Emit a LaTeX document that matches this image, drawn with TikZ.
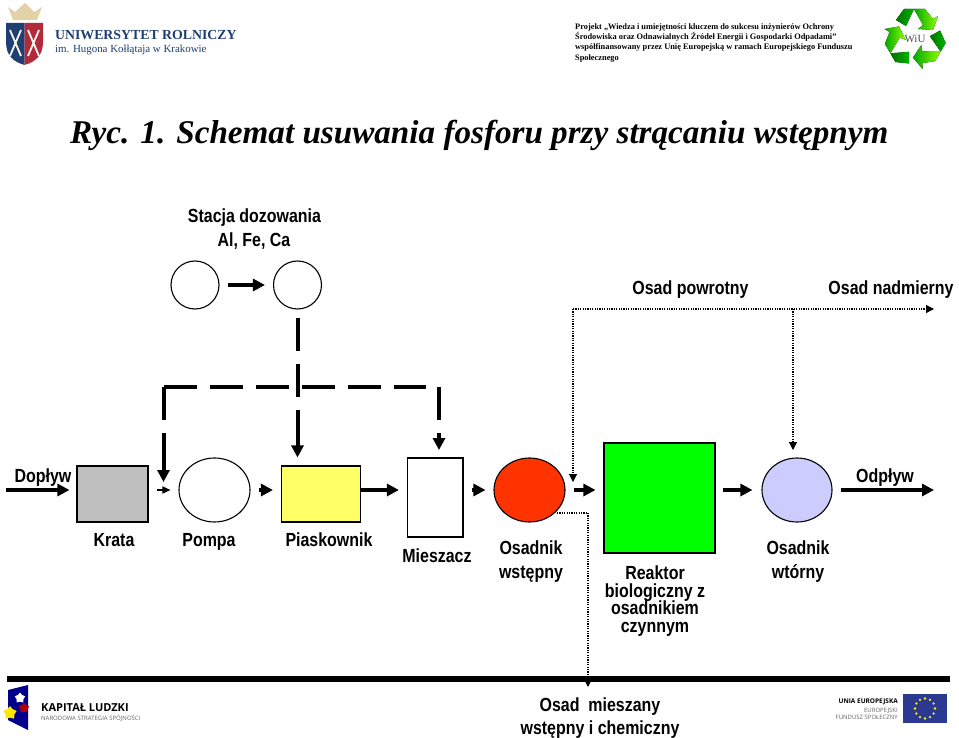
\documentclass[tikz,border=0pt]{standalone}
\usepackage{fontspec}
\usetikzlibrary{arrows.meta,shapes.geometric}
\setmainfont{Liberation Serif}
\newfontfamily\labfont[FakeStretch=0.84]{Liberation Sans}
\newfontfamily\logofont{Open Sans}
\definecolor{uniblue}{HTML}{1F3F73}
\definecolor{unired}{HTML}{B32A3A}
\definecolor{eublue}{HTML}{2B3990}
\definecolor{crown}{HTML}{E2D2A6}
\definecolor{sandy}{HTML}{FFFF66}
\definecolor{screen}{HTML}{BFBFBF}
\definecolor{primary}{HTML}{FF3300}
\definecolor{reactor}{HTML}{00FF00}
\definecolor{secondary}{HTML}{CCCCFF}
\begin{document}
\begin{tikzpicture}[x=1pt,y=-1pt,
box/.style={draw,line width=1.1pt,inner sep=0pt},
round/.style={ellipse,draw,line width=1.1pt,inner sep=0pt},
lab/.style={font=\labfont\bfseries\fontsize{19}{19}\selectfont,inner sep=0pt,anchor=base,text height=12.5pt,text depth=4pt},
flow/.style={line width=4pt,-{Triangle[length=12pt,width=12pt]}},
dose/.style={flow,dash pattern=on 33pt off 13pt on 200pt},
slud/.style={line width=1.1pt,dash pattern=on 1.2pt off 1.2pt},
sludtip/.style={slud,-{Triangle[length=8pt,width=8pt]}}]
\useasboundingbox (0,0) rectangle (959,738);
% process line
\coordinate (line) at (0,490);
\coordinate (in) at (6,490);
\coordinate (out) at (934,490);
\node[box,fill=screen,minimum width=71pt,minimum height=56pt] (krata) at (112.5,494) {};
\node[round,fill=white,minimum width=71pt,minimum height=64pt] (pompa) at (214.5,490) {};
\node[box,fill=sandy,minimum width=79pt,minimum height=56pt] (piask) at (321,494) {};
\node[box,fill=white,minimum width=55.5pt,minimum height=79pt] (miesz) at (435.2,497.5) {};
\node[round,fill=primary,minimum width=71pt,minimum height=64pt] (wstepny) at (529.5,490) {};
\node[box,fill=reactor,minimum width=111pt,minimum height=110pt] (reaktor) at (659.5,498) {};
\node[round,fill=secondary,minimum width=70pt,minimum height=64pt] (wtorny) at (797,490) {};
\draw[flow] (in) -- ([xshift=-7pt]krata.west |- line);
\draw[line width=1.5pt,-{Triangle[length=8pt,width=7pt]},shorten <=8pt,shorten >=8pt] (krata.east |- line) -- (pompa.west |- line);
\draw[flow,shorten <=8pt,shorten >=8pt] (pompa.east |- line) -- (piask.west |- line);
\draw[flow,shorten >=8pt] (piask.east |- line) -- (miesz.west |- line);
\draw[flow,shorten <=8pt,shorten >=8pt] (miesz.east |- line) -- (wstepny.west |- line);
\draw[flow,shorten <=8pt,shorten >=8pt] (wstepny.east |- line) -- (reaktor.west |- line);
\draw[flow,shorten <=7pt,shorten >=9pt] (reaktor.east |- line) -- (wtorny.west |- line);
\draw[flow,shorten <=8pt] (wtorny.east |- line) -- (out);
% dosing station
\node[round,minimum width=48pt,minimum height=48pt] (dos1) at (195,285) {};
\node[round,minimum width=48pt,minimum height=48pt] (dos2) at (297.5,285) {};
\draw[flow,shorten <=8pt,shorten >=8pt] (dos1) -- (dos2);
\coordinate (joinL) at (163.5,387);
\coordinate (joinR) at (426,387);
\coordinate (dropR) at (439,387);
\coordinate (tipL) at (163.5,482);
\coordinate (tipR) at (439,450);
\draw[dose,shorten <=8pt,shorten >=8pt,dash pattern=on 33pt off 13pt on 33pt off 13pt on 200pt] (dos2) -- (dos2 |- piask.north);
\draw[line width=4pt,dash pattern=on 33pt off 13pt] (joinL) -- (joinR);
\draw[dose] (joinL) -- (tipL);
\draw[dose] (dropR) -- (tipR);
% sludge lines
\coordinate (retL) at (573,309);
\coordinate (retM) at (793,309);
\coordinate (retR) at (934,309);
\coordinate (retLtip) at (573,482);
\coordinate (retMtip) at (793,450);
\coordinate (mixA) at (557,513);
\coordinate (mixB) at (588,513);
\coordinate (mixtip) at (588,687);
\draw[sludtip] (retL) -- (retR);
\draw[sludtip] (retL) -- (retLtip);
\draw[sludtip] (retM) -- (retMtip);
\draw[slud] (mixA) -- (mixB);
% bar under the scheme
\coordinate (barL) at (7,679);
\coordinate (barR) at (950,679);
\draw[line width=6pt] (barL) -- (barR);
\draw[sludtip] (mixB) -- (mixtip);
% labels
\node[lab] (stacja) at (254.5,222.5) {Stacja dozowania};
\node[lab] (metale) at (254,246.5) {Al, Fe, Ca};
\node[lab] (powrotny) at (690.5,294.5) {Osad powrotny};
\node[lab] (nadmierny) at (891,294.5) {Osad nadmierny};
\node[lab] (doplyw) at (43,482.5) {Dopływ};
\node[lab] (odplyw) at (885,482.5) {Odpływ};
\node[lab] (lkrata) at (114,546) {Krata};
\node[lab] (lpompa) at (209,546) {Pompa};
\node[lab] (lpiask) at (329,546) {Piaskownik};
\node[lab] (lmiesz) at (437,562) {Mieszacz};
\node[lab] (lwst1) at (531,554) {Osadnik};
\node[lab] (lwst2) at (531,578) {wstępny};
\node[lab] (lwt1) at (798,554) {Osadnik};
\node[lab] (lwt2) at (798,578) {wtórny};
\node[lab] (lre1) at (655,579) {Reaktor};
\node[lab] (lre2) at (655,597) {biologiczny z};
\node[lab] (lre3) at (655,614) {osadnikiem};
\node[lab] (lre4) at (655,632) {czynnym};
\node[lab] (lmix1) at (600,711) {Osad\ \ mieszany};
\node[lab] (lmix2) at (600,734) {wstępny i chemiczny};
% title
\node[font=\bfseries\itshape\fontsize{33.15}{33.15}\selectfont,inner sep=0pt,anchor=base west] (title) at (70,144) {Ryc. 1. Schemat usuwania fosforu przy strącaniu wstępnym};
% project note
\node[font=\bfseries\fontsize{8.35}{10.4}\selectfont,inner sep=0pt,align=left,anchor=north west] (projekt) at (575,23) {Projekt „Wiedza i umiejętności kluczem do sukcesu inżynierów Ochrony\\Środowiska oraz Odnawialnych Źródeł Energii i Gospodarki Odpadami”\\współfinansowany przez Unię Europejską w ramach Europejskiego Funduszu\\Społecznego};
% university logo
\fill[crown] (8,7) -- (15,12) -- (25,3) -- (34,12) -- (42,7) -- (37,20) -- (13,20) -- cycle;
\fill[uniblue] (6,23) -- (24.5,23) -- (24.5,65) .. controls (14,62) and (6,56) .. (6,42) -- cycle;
\fill[unired] (24.5,23) -- (43,23) -- (43,42) .. controls (43,56) and (35,62) .. (24.5,65) -- cycle;
\draw[white!85!crown,line width=1.8pt] (10,30) -- (21,56) (21,30) -- (10,56) (28,30) -- (39,56) (39,30) -- (28,56);
\node[font=\bfseries\fontsize{13.8}{13.8}\selectfont,text=uniblue,inner sep=0pt,anchor=base west] (uni) at (55,40) {UNIWERSYTET ROLNICZY};
\node[font=\fontsize{10.9}{10.9}\selectfont,text=uniblue,inner sep=0pt,anchor=base west] (uni2) at (55,53) {im. Hugona Kołłątaja w Krakowie};
% recycling logo
\foreach \a in {0,120,240}{
\begin{scope}[shift={(915,38)},rotate=\a]
\fill[left color=green!45!black,right color=green!70!black] (-19,-18) -- (-11,-29) -- (-1,-29) -- (-9,-12) -- cycle;
\fill[left color=green!65!black,right color=lime!75!green] (-1,-29) -- (10,-29) -- (18,-19) -- (23,-22) -- (18,-8) -- (3,-9) -- (8,-13) -- cycle;
\end{scope}}
\node[font=\fontsize{11}{11}\selectfont,text=black!70,inner sep=0pt] (wiu) at (915,39) {WiU};
% human capital logo
\fill[blue!55!black] (8,690) -- (28,685) -- (28,730) -- (8,720) -- cycle;
\node[star,fill=white,inner sep=0pt,minimum size=11pt] (star1) at (20,698) {};
\node[star,fill=yellow!90!orange,inner sep=0pt,minimum size=14pt] (star2) at (10,713) {};
\node[star,fill=red!70!black,inner sep=0pt,minimum size=11pt] (star3) at (24,708) {};
\node[font=\logofont\bfseries\fontsize{11}{11}\selectfont,inner sep=0pt,anchor=base west] (kl1) at (41,711) {KAPITAŁ LUDZKI};
\node[font=\logofont\fontsize{6}{6}\selectfont,text=black!60,inner sep=0pt,anchor=base west] (kl2) at (41,720) {NARODOWA STRATEGIA SPÓJNOŚCI};
% EU logo
\node[font=\logofont\bfseries\fontsize{6.5}{6.5}\selectfont,inner sep=0pt,anchor=base east] (eu1) at (898,703) {UNIA EUROPEJSKA};
\node[font=\logofont\fontsize{6}{6}\selectfont,text=black!60,inner sep=0pt,anchor=base east] (eu2) at (898,712) {EUROPEJSKI};
\node[font=\logofont\fontsize{6}{6}\selectfont,text=black!60,inner sep=0pt,anchor=base east] (eu3) at (898,719) {FUNDUSZ SPOŁECZNY};
\fill[eublue] (903,694) rectangle (947,723);
\foreach \a in {0,30,...,330}{
\fill[yellow!90!white] (925,708.5) ++(\a:10) circle (1.3pt);}
\end{tikzpicture}
\end{document}
